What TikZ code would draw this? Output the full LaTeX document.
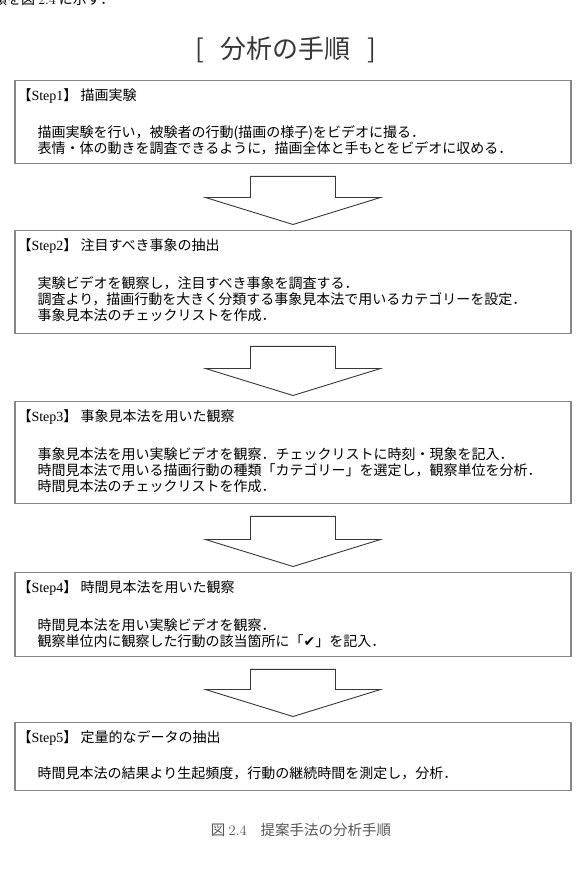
\documentclass[tikz,border=0pt]{standalone}
\usepackage{fontspec}
\newfontfamily\jpfont{Noto Sans CJK JP}
\newfontfamily\latfont{Liberation Serif}
\newfontfamily\symfont{DejaVu Sans}
\usepackage{tikz}
\usetikzlibrary{positioning,calc}
\definecolor{boxgray}{RGB}{135,135,135}
\definecolor{inkgray}{RGB}{55,55,55}
\definecolor{capgray}{RGB}{85,85,85}

\begin{document}
\begin{tikzpicture}[x=1pt, y=-1pt,
stepbox/.style={draw=boxgray, line width=1.3pt, fill=white, anchor=north,
minimum width=556pt, inner sep=0pt},
steplabel/.style={anchor=west, inner sep=0pt, font=\jpfont\fontsize{14}{16}\selectfont},
stepbody/.style={anchor=north west, inner sep=0pt, align=left,
font=\jpfont\fontsize{14}{16}\selectfont},
flowarrow/.style={draw=inkgray, line width=0.9pt, fill=white, line join=miter}
]
\useasboundingbox (0,0) rectangle (584,875);

% running text above the figure (cut by the page edge)
\node[anchor=base west, inner sep=0pt, font=\jpfont\fontsize{14}{16}\selectfont] (lead) at (-7,5)
{順を図 {\rmfamily 2.4} に示す．};

\node[font=\jpfont\fontsize{26}{30}\selectfont, text=inkgray] (title) at (286,50)
{[\hspace{17pt}分析の手順\hspace{17pt}]};

% step boxes
\node[stepbox, minimum height=83pt]  (s1) at (293,80)  {};
\node[stepbox, minimum height=103pt] (s2) at (293,230) {};
\node[stepbox, minimum height=102pt] (s3) at (293,401) {};
\node[stepbox, minimum height=84pt]  (s4) at (293,572) {};
\node[stepbox, minimum height=68pt]  (s5) at (293,722) {};

\node[steplabel] (l1) at ($(s1.north west)+(3,16)$) {【{\latfont Step1}】 描画実験};
\node[steplabel] (l2) at ($(s2.north west)+(3,16)$) {【{\latfont Step2}】 注目すべき事象の抽出};
\node[steplabel] (l3) at ($(s3.north west)+(3,16)$) {【{\latfont Step3}】 事象見本法を用いた観察};
\node[steplabel] (l4) at ($(s4.north west)+(3,16)$) {【{\latfont Step4}】 時間見本法を用いた観察};
\node[steplabel] (l5) at ($(s5.north west)+(3,16)$) {【{\latfont Step5}】 定量的なデータの抽出};

\node[stepbody] (b1) at ($(s1.north west)+(23,45)$)
{描画実験を行い，被験者の行動(描画の様子)をビデオに撮る．\\
表情・体の動きを調査できるように，描画全体と手もとをビデオに収める．};
\node[stepbody] (b2) at ($(s2.north west)+(23,46)$)
{実験ビデオを観察し，注目すべき事象を調査する．\\
調査より，描画行動を大きく分類する事象見本法で用いるカテゴリーを設定．\\
事象見本法のチェックリストを作成．};
\node[stepbody] (b3) at ($(s3.north west)+(23,46)$)
{事象見本法を用い実験ビデオを観察．チェックリストに時刻・現象を記入．\\
時間見本法で用いる描画行動の種類「カテゴリー」を選定し，観察単位を分析．\\
時間見本法のチェックリストを作成．};
\node[stepbody] (b4) at ($(s4.north west)+(23,46)$)
{時間見本法を用い実験ビデオを観察．\\
観察単位内に観察した行動の該当箇所に「{\symfont ✔}」を記入．};
\node[stepbody] (b5) at ($(s5.north west)+(23,45)$)
{時間見本法の結果より生起頻度，行動の継続時間を測定し，分析．};

% block arrows between the steps
\foreach \a/\b in {s1/s2, s2/s3, s3/s4, s4/s5} {
  \draw[flowarrow] ($(\a.south)+(-42.5,12)$) -- ($(\a.south)+(42.5,12)$)
    -- ($(\b.north)+(42.5,-32.5)$) -- ($(\b.north)+(87.5,-32.5)$)
    -- ($(\b.north)+(0,-5.5)$) -- ($(\b.north)+(-87.5,-32.5)$)
    -- ($(\b.north)+(-42.5,-32.5)$) -- cycle;
}

\node[font=\jpfont\fontsize{14.5}{16}\selectfont, text=capgray] (cap) at (301,830)
{図 {\rmfamily 2.4}\hspace{14pt}提案手法の分析手順};

\end{tikzpicture}
\end{document}
